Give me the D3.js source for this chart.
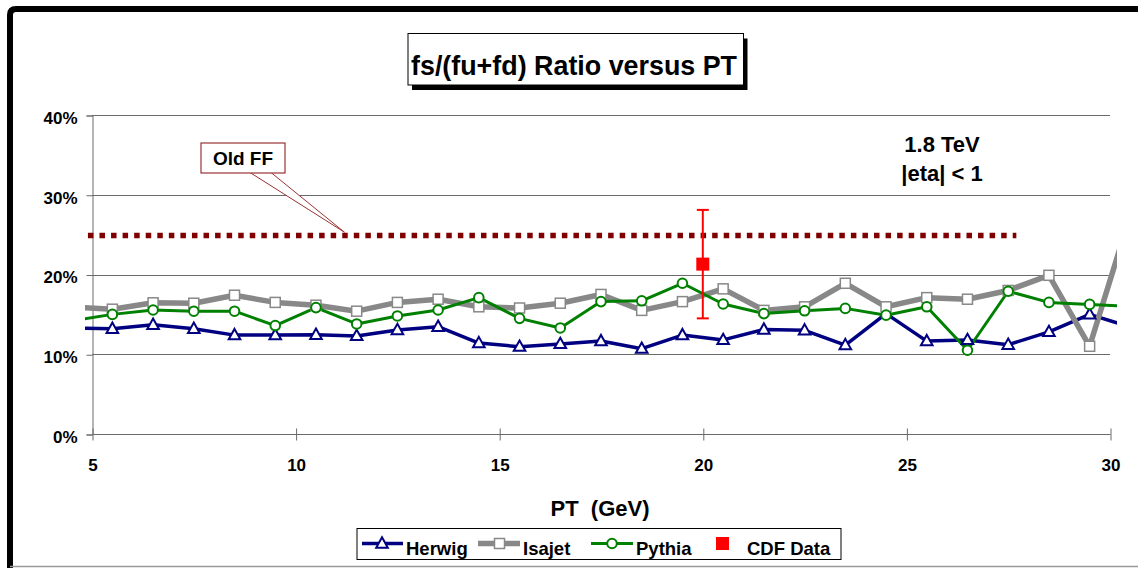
<!DOCTYPE html>
<html>
<head>
<meta charset="utf-8">
<script src="https://cdn.jsdelivr.net/npm/d3@7"></script>
<style>
  html, body { margin: 0; padding: 0; background: #fff; }
  svg { display: block; }
  text { font-family: "Liberation Sans", Arial, sans-serif; font-weight: bold; fill: #000; }
</style>
</head>
<body>
<svg id="chart" width="1138" height="568"></svg>
<script>
// ---------------- data ----------------
const ptValues = [4.5, 5.5, 6.5, 7.5, 8.5, 9.5, 10.5, 11.5, 12.5, 13.5, 14.5, 15.5, 16.5, 17.5,
                  18.5, 19.5, 20.5, 21.5, 22.5, 23.5, 24.5, 25.5, 26.5, 27.5, 28.5, 29.5, 30.5];
const herwig = [13.3, 13.2, 13.7, 13.2, 12.4, 12.4, 12.45, 12.3, 13.05, 13.45, 11.4, 10.95, 11.3, 11.65,
                10.7, 12.4, 11.8, 13.1, 13.0, 11.15, 15.1, 11.65, 11.8, 11.2, 12.8, 15.0, 13.4];
const isajet = [15.9, 15.65, 16.45, 16.4, 17.4, 16.5, 16.15, 15.4, 16.5, 16.9, 15.95, 15.8, 16.4, 17.5,
                15.5, 16.6, 18.2, 15.5, 15.95, 18.9, 15.95, 17.1, 16.9, 18.0, 19.9, 11.0, 27.5];
const pythia = [14.2, 15.0, 15.55, 15.4, 15.4, 13.6, 15.85, 13.8, 14.8, 15.55, 17.1, 14.5, 13.3, 16.6,
                16.7, 18.9, 16.3, 15.1, 15.45, 15.75, 14.9, 15.95, 10.5, 17.9, 16.5, 16.25, 16.0];
const cdfX = [20];
const cdfValue = [21.3];
const cdfLow = [14.5];
const cdfHigh = [28.1];
const oldFFx = [4.9, 27.7];
const oldFFvalue = [24.9, 24.9];
const calloutTip = [11.2, 25.3];
const xTicks = [5, 10, 15, 20, 25, 30];
const yTicks = [0, 10, 20, 30, 40];
const seriesNames = ["Herwig", "Isajet", "Pythia", "CDF Data"];
const titleText = "fs/(fu+fd) Ratio versus PT";
const xTitle = "PT  (GeV)";
const noteLines = ["1.8 TeV", "|eta| < 1"];
const calloutText = "Old FF";

// ---------------- layout ----------------
const svg = d3.select("#chart");
const x = d3.scaleLinear().domain([5, 30]).range([92, 1110]);
const y = d3.scaleLinear().domain([0, 40]).range([434, 115]);

const colHerwig = "#000080", colIsajet = "#888888", colPythia = "#008000", colCDF = "#ff0000";
const colOld = "#800000", colCallout = "#993333", colGrid = "#6a6a6a";

// outer frame
svg.append("path")
  .attr("d", "M10,568 V15 Q10,9 16,9 H1138")
  .attr("fill", "none").attr("stroke", "#000").attr("stroke-width", 6);
svg.append("line").attr("x1", 10).attr("x2", 1138).attr("y1", 566.5).attr("y2", 566.5)
  .attr("stroke", "#999").attr("stroke-width", 1.5);

// title box
svg.append("rect").attr("x", 412).attr("y", 38.5).attr("width", 335.5).attr("height", 51.5).attr("fill", "#000");
svg.append("rect").attr("x", 408).attr("y", 33.5).attr("width", 335.5).attr("height", 51.5)
  .attr("fill", "#fff").attr("stroke", "#000").attr("stroke-width", 1);
svg.append("text").attr("x", 574).attr("y", 75).attr("text-anchor", "middle")
  .attr("font-size", 28).attr("textLength", 326).attr("lengthAdjust", "spacingAndGlyphs")
  .text(titleText);

// gridlines
const g = svg.append("g");
g.selectAll("line.grid").data(yTicks.filter(d => d > 0)).join("line")
  .attr("x1", x(5)).attr("x2", x(30))
  .attr("y1", d => Math.round(y(d)) + 0.5).attr("y2", d => Math.round(y(d)) + 0.5)
  .attr("stroke", colGrid).attr("stroke-width", 1);

// y axis
const yAxis = d3.axisLeft(y).tickValues(yTicks).tickSize(6).tickFormat(d => d + "%");
const yg = svg.append("g").attr("transform", `translate(${Math.round(x(5)) + 0.5},0.5)`).call(yAxis);
yg.select(".domain").attr("stroke", colGrid);
yg.selectAll(".tick line").attr("stroke", colGrid);
yg.selectAll(".tick text").attr("font-size", 17).attr("x", -15).attr("dy", "0.7em")
  .attr("font-family", '"Liberation Sans", Arial, sans-serif').attr("font-weight", "bold").attr("fill", "#000")
  .attr("y", -4);

// x axis
const xAxis = d3.axisBottom(x).tickValues(xTicks).tickSize(6).tickSizeOuter(0).tickFormat(d3.format("d"));
const xg = svg.append("g").attr("transform", `translate(0.5,${Math.round(y(0)) + 0.5})`).call(xAxis);
xg.select(".domain").attr("stroke", colGrid).attr("d", `M${x(5)},0H${x(30)}`);
xg.selectAll(".tick line").attr("stroke", colGrid).attr("y1", -6).attr("y2", 6);
xg.selectAll(".tick text").attr("font-size", 17).attr("y", 24)
  .attr("font-family", '"Liberation Sans", Arial, sans-serif').attr("font-weight", "bold").attr("fill", "#000");

// axis title
svg.append("text").attr("x", 600).attr("y", 516).attr("text-anchor", "middle")
  .attr("font-size", 22).attr("xml:space", "preserve").style("white-space", "pre").text(xTitle);

// annotation
svg.selectAll("text.note").data(noteLines).join("text").attr("class", "note")
  .attr("x", 942).attr("y", (d, i) => 151.5 + i * 29).attr("text-anchor", "middle")
  .attr("font-size", 22).text(d => d);

// clip for series
svg.append("clipPath").attr("id", "plotclip").append("rect")
  .attr("x", 85).attr("y", 0).attr("width", 1032).attr("height", 440);
const plot = svg.append("g").attr("clip-path", "url(#plotclip)");

// Old FF dotted line
plot.append("path")
  .attr("d", d3.line().x(d => x(d[0])).y(d => y(d[1]))(oldFFx.map((v, i) => [v, oldFFvalue[i]])))
  .attr("fill", "none").attr("stroke", colOld).attr("stroke-width", 5.5)
  .attr("stroke-dasharray", "5.5 6.06");

const line = d3.line().x(d => x(d[0])).y(d => y(d[1]));
const zip = arr => ptValues.map((v, i) => [v, arr[i]]);

function triPath(cx, cy, s) {
  return `M${cx},${cy - s * 0.62}L${cx + s * 0.58},${cy + s * 0.42}L${cx - s * 0.58},${cy + s * 0.42}Z`;
}

// Herwig
plot.append("path").attr("d", line(zip(herwig))).attr("fill", "none")
  .attr("stroke", colHerwig).attr("stroke-width", 3.5).attr("stroke-linejoin", "round");
// Isajet
plot.append("path").attr("d", line(zip(isajet))).attr("fill", "none")
  .attr("stroke", colIsajet).attr("stroke-width", 5.5).attr("stroke-linejoin", "round");
// Pythia
plot.append("path").attr("d", line(zip(pythia))).attr("fill", "none")
  .attr("stroke", colPythia).attr("stroke-width", 3).attr("stroke-linejoin", "round");

// markers (drawn after lines, series order)
plot.selectAll("path.tri").data(zip(herwig)).join("path").attr("class", "tri")
  .attr("d", d => triPath(x(d[0]), y(d[1]), 10))
  .attr("fill", "#fff").attr("stroke", colHerwig).attr("stroke-width", 2);
plot.selectAll("rect.sq").data(zip(isajet)).join("rect").attr("class", "sq")
  .attr("x", d => x(d[0]) - 5).attr("y", d => y(d[1]) - 5).attr("width", 10).attr("height", 10)
  .attr("fill", "#fff").attr("stroke", colIsajet).attr("stroke-width", 1.5);
plot.selectAll("circle.ci").data(zip(pythia)).join("circle").attr("class", "ci")
  .attr("cx", d => x(d[0])).attr("cy", d => y(d[1])).attr("r", 4.8)
  .attr("fill", "#fff").attr("stroke", colPythia).attr("stroke-width", 2);

// CDF data with error bar
const cdf = cdfX.map((v, i) => ({ x: v, y: cdfValue[i], lo: cdfLow[i], hi: cdfHigh[i] }));
const cg = svg.append("g");
cdf.forEach(d => {
  const cx = x(d.x);
  cg.append("line").attr("x1", cx).attr("x2", cx).attr("y1", y(d.hi)).attr("y2", y(d.lo))
    .attr("stroke", colCDF).attr("stroke-width", 2);
  [d.hi, d.lo].forEach(v => cg.append("line").attr("x1", cx - 6).attr("x2", cx + 6)
    .attr("y1", y(v)).attr("y2", y(v)).attr("stroke", colCDF).attr("stroke-width", 2));
  cg.append("rect").attr("x", cx - 6.5).attr("y", y(d.y) - 6.5).attr("width", 13).attr("height", 13)
    .attr("fill", colCDF);
});

// Old FF callout
const tipX = x(calloutTip[0]), tipY = y(calloutTip[1]);
svg.append("path").attr("d", `M250,172.5 L${tipX},${tipY} L271,172.5`)
  .attr("fill", "#fff").attr("stroke", colCallout).attr("stroke-width", 1);
svg.append("rect").attr("x", 201).attr("y", 143).attr("width", 84).attr("height", 30)
  .attr("fill", "#fff").attr("stroke", colCallout).attr("stroke-width", 1.2);
svg.append("text").attr("x", 243).attr("y", 165).attr("text-anchor", "middle")
  .attr("font-size", 19).text(calloutText);

// legend
const lg = svg.append("g");
lg.append("rect").attr("x", 357).attr("y", 528.5).attr("width", 484).attr("height", 31)
  .attr("fill", "#fff").attr("stroke", "#000").attr("stroke-width", 1);
const ly = 543.5;
// Herwig
lg.append("line").attr("x1", 362).attr("x2", 403).attr("y1", ly).attr("y2", ly)
  .attr("stroke", colHerwig).attr("stroke-width", 3.5);
lg.append("path").attr("d", triPath(382, ly, 10)).attr("fill", "#fff").attr("stroke", colHerwig).attr("stroke-width", 2);
// Isajet
lg.append("line").attr("x1", 478).attr("x2", 520).attr("y1", ly).attr("y2", ly)
  .attr("stroke", colIsajet).attr("stroke-width", 5.5);
lg.append("rect").attr("x", 494.5).attr("y", ly - 5).attr("width", 10).attr("height", 10)
  .attr("fill", "#fff").attr("stroke", colIsajet).attr("stroke-width", 1.5);
// Pythia
lg.append("line").attr("x1", 591).attr("x2", 633).attr("y1", ly).attr("y2", ly)
  .attr("stroke", colPythia).attr("stroke-width", 3);
lg.append("circle").attr("cx", 612).attr("cy", ly).attr("r", 4.8)
  .attr("fill", "#fff").attr("stroke", colPythia).attr("stroke-width", 2);
// CDF
lg.append("rect").attr("x", 716).attr("y", ly - 6.5).attr("width", 13).attr("height", 13).attr("fill", colCDF);
const legX = [406, 523, 636, 747];
lg.selectAll("text.leg").data(seriesNames).join("text").attr("class", "leg")
  .attr("x", (d, i) => legX[i]).attr("y", 555).attr("font-size", 18.5).text(d => d);
</script>
</body>
</html>
